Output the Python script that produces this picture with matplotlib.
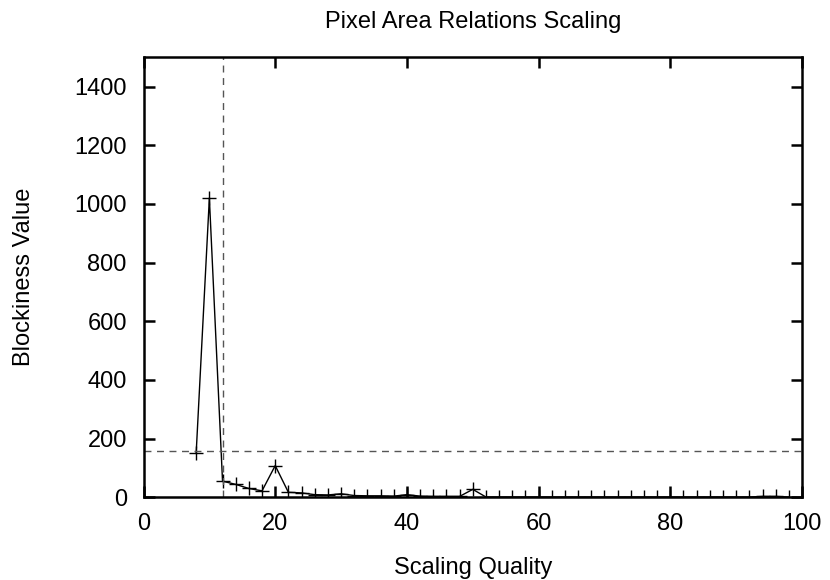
import matplotlib
matplotlib.use("Agg")
import matplotlib.pyplot as plt

plt.rcParams['font.family'] = ['Liberation Sans', 'DejaVu Sans']

# Blockiness measured at each scaling quality setting
quality = [8, 10, 12, 14, 16, 18, 20, 22, 24, 26, 28, 30, 32, 34, 36, 38,
           40, 42, 44, 46, 48, 50, 52, 54, 56, 58, 60, 62, 64, 66, 68, 70,
           72, 74, 76, 78, 80, 82, 84, 86, 88, 90, 92, 94, 96, 98]
blockiness = [152, 1020, 55, 44, 30, 22, 108, 17, 15, 9, 8, 12, 6, 5, 5, 4,
              9, 4, 3, 3, 3, 27, 1, 1, 1, 1, 1, 1, 1, 1, 1, 1,
              1, 1, 1, 1, 1, 1, 1, 1, 1, 1, 1, 3, 3, 1]

# Reference thresholds
quality_cut = 12
blockiness_cut = 158

x_ticks = [0, 20, 40, 60, 80, 100]
y_ticks = [0, 200, 400, 600, 800, 1000, 1200, 1400]

fs = 17

fig = plt.figure(figsize=(8.3, 5.8), dpi=100)
ax = fig.add_axes([0.1729, 0.1426, 0.7934, 0.7586])

ax.plot(quality, blockiness, color='black', linewidth=1.0,
        marker='+', markersize=10, markeredgewidth=1.0)
ax.axvline(quality_cut, color='#555555', linestyle=(0, (5, 4)), linewidth=1.0)
ax.axhline(blockiness_cut, color='#555555', linestyle=(0, (5, 4)), linewidth=1.0)

ax.set_xlim(0, 100)
ax.set_ylim(0, 1500)
ax.set_xticks(x_ticks)
ax.set_yticks(y_ticks)
ax.tick_params(direction='in', length=8, width=1.8, labelsize=fs,
               top=True, right=True)
ax.tick_params(axis='x', pad=11)
ax.tick_params(axis='y', pad=12)
for s in ax.spines.values():
    s.set_linewidth(1.8)

ax.set_title('Pixel Area Relations Scaling', fontsize=fs, pad=21)
ax.set_xlabel('Scaling Quality', fontsize=fs, labelpad=16)
ax.set_ylabel('Blockiness Value', fontsize=fs, labelpad=28)

fig.savefig('out.png', dpi=100)
